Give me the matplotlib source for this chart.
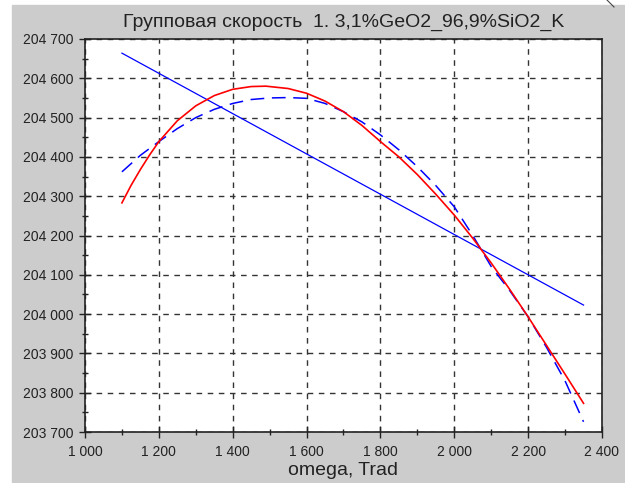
import matplotlib
matplotlib.use("Agg")
import matplotlib.pyplot as plt
from matplotlib.patches import Rectangle
from matplotlib.lines import Line2D
from matplotlib.ticker import FuncFormatter, MultipleLocator

# linear fit (blue solid)
omega_lin = [1100, 2350]
v_lin = [204664, 204023]

# red curve
omega_red = [1100, 1125, 1150, 1175, 1200, 1250, 1300, 1350, 1400, 1450, 1490, 1550, 1600, 1650,
             1700, 1750, 1800, 1850, 1900, 1950, 2000, 2050, 2100, 2150, 2200, 2250, 2300, 2350]
v_red = [204283, 204328, 204368, 204405, 204439, 204492, 204530, 204556, 204572, 204579, 204580,
         204574, 204562, 204542, 204515, 204480, 204439, 204400, 204355, 204305, 204252, 204193,
         204130, 204063, 203993, 203920, 203847, 203773]

# blue dashed curve
omega_dash = [1100, 1150, 1200, 1250, 1300, 1350, 1400, 1450, 1500, 1550, 1600, 1650, 1700,
              1750, 1800, 1850, 1900, 1950, 2000, 2050, 2100, 2150, 2200, 2250, 2300, 2350]
v_dash = [204362, 204404, 204439, 204472, 204500, 204521, 204536, 204546, 204550, 204551, 204549,
          204536, 204515, 204489, 204456, 204418, 204375, 204327, 204273, 204200, 204121, 204060,
          203993, 203915, 203830, 203726]

title = "Групповая скорость  1. 3,1%GeO2_96,9%SiO2_K"

plt.rcParams['font.family'] = ['Liberation Sans', 'DejaVu Sans']

fig = plt.figure(figsize=(6.25, 4.83), dpi=100, facecolor="white")
fig.patches.append(Rectangle((12/625, 0), 1, (483-5)/483, transform=fig.transFigure,
                             color="#cccccc", zorder=-1))
fig.lines.append(Line2D([607/625, 614/625], [1, 1-7/483], transform=fig.transFigure,
                        color="#444444", lw=0.8))

ax = fig.add_axes([85/625, 1-432/483, (602-85)/625, (432-39)/483])
ax.set_facecolor("white")

ax.plot(omega_lin, v_lin, color="#0000ff", lw=0.9)
ax.plot(omega_dash, v_dash, color="#0000ff", lw=1.1, dashes=(9, 5))
ax.plot(omega_red, v_red, color="#ff0000", lw=1.2)

ax.set_xlim(1000, 2400)
ax.set_ylim(203700, 204700)
ax.xaxis.set_major_locator(MultipleLocator(200))
ax.xaxis.set_minor_locator(MultipleLocator(100))
ax.yaxis.set_major_locator(MultipleLocator(100))
ax.yaxis.set_minor_locator(MultipleLocator(50))
fmt = FuncFormatter(lambda v, p: f"{v:,.0f}".replace(",", " "))
ax.xaxis.set_major_formatter(fmt)
ax.yaxis.set_major_formatter(fmt)
ax.tick_params(which="major", direction="inout", length=9, width=1, labelsize=10, colors="#222222")
ax.tick_params(which="minor", direction="inout", length=5, width=1, colors="#222222")
ax.tick_params(axis="x", which="both", top=False, pad=5)
ax.tick_params(axis="y", which="both", right=False, pad=4)

ax.grid(True, which="major", color="#333333", lw=1, linestyle=(0, (4, 4)))
for s in ax.spines.values():
    s.set_color("#222222")
    s.set_linewidth(1.2)

ax.set_title(title, fontsize=14, color="#222222", pad=9)
ax.set_xlabel("omega, Trad", fontsize=14, color="#222222", labelpad=2)

fig.savefig("out.png", dpi=100)
